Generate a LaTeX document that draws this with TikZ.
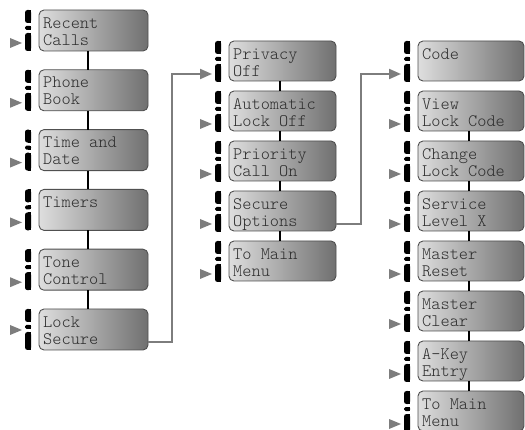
\documentclass[tikz,border=0pt]{standalone}
\usepackage{fontspec}
\setmonofont{Latin Modern Mono Light}
\usetikzlibrary{calc,arrows.meta}
\definecolor{boxborder}{RGB}{80,80,80}
\definecolor{boxlight}{RGB}{222,222,222}
\definecolor{boxmid}{RGB}{172,172,172}
\definecolor{boxdark}{RGB}{112,112,112}
\definecolor{connclr}{RGB}{125,125,125}
\definecolor{lcdclr}{RGB}{45,45,45}
\tikzset{
  menubox/.style={draw=boxborder, line width=0.9pt, rounded corners=5pt,
    left color=boxlight, middle color=boxmid, right color=boxdark, anchor=north west,
    inner sep=0pt, outer sep=0pt},
  lcdtext/.style={anchor=north west, inner sep=0pt, align=left, text=lcdclr,
    font=\ttfamily\fontsize{17.5}{17}\selectfont},
  vline/.style={draw=black, line width=1.2pt},
  connline/.style={draw=connclr, line width=2pt,
    -{Triangle[length=12pt,width=10pt]}},
  markfill/.style={fill=black},
  tri/.style={fill=connclr},
}
\newcommand{\menuitem}[6]{%
  \node[menubox, minimum width=#4pt, minimum height=#5pt] (#1) at (#2,#3) {};
  \node[lcdtext] (#1-t) at ($(#1.north west)+(4,6)$) {\rule{0pt}{12pt}#6};
  \fill[markfill, rounded corners=2.5pt] ($(#1.north west)+(-14,0)$) rectangle ($(#1.north west)+(-8,13)$);
  \fill[markfill] ($(#1.north west)+(-11,0)$) rectangle ($(#1.north west)+(-8,13)$);
  \fill[markfill, rounded corners=1.5pt] ($(#1.north west)+(-14,16)$) rectangle ($(#1.north west)+(-8,20)$);
  \fill[markfill] ($(#1.north west)+(-11,16)$) rectangle ($(#1.north west)+(-8,20)$);
  \fill[markfill, rounded corners=2.5pt] ($(#1.north west)+(-14,23)$) rectangle ($(#1.north west)+(-8,41)$);
  \fill[markfill] ($(#1.north west)+(-11,23)$) rectangle ($(#1.north west)+(-8,41)$);
}
\newcommand{\menutri}[2]{%
  \fill[tri] ($(#1.north west)+(-29,#2-5)$) -- ($(#1.north west)+(-17,#2)$) -- ($(#1.north west)+(-29,#2+5)$) -- cycle;
}
\newcommand{\menulink}[3]{%
  \draw[vline] ($(#1.south west)+(#3,0)$) -- ($(#2.north west)+(#3,0)$);
}
\begin{document}
\begin{tikzpicture}[x=1pt,y=-1pt]
\useasboundingbox[fill=white] (0,0) rectangle (525,430);
% column 1
\menuitem{rc}{39}{10}{109}{41}{Recent\\Calls}
\menuitem{pb}{39}{69.8}{109}{41}{Phone\\Book}
\menuitem{td}{39}{129.6}{109}{41}{Time and\\Date}
\menuitem{tm}{39}{189.4}{109}{41}{Timers}
\menuitem{tc}{39}{249.2}{109}{41}{Tone\\Control}
\menuitem{ls}{39}{309}{109}{41}{Lock\\Secure}
\menutri{rc}{33}
\menutri{pb}{33}
\menutri{td}{33}
\menutri{tm}{33}
\menutri{tc}{33}
\menutri{ls}{21}
\menulink{rc}{pb}{49}
\menulink{pb}{td}{49}
\menulink{td}{tm}{49}
\menulink{tm}{tc}{49}
\menulink{tc}{ls}{49}
% column 2
\menuitem{po}{229}{41}{107}{40}{Privacy\\Off}
\menuitem{al}{229}{91}{107}{40}{Automatic\\Lock Off}
\menuitem{pc}{229}{141}{107}{40}{Priority\\Call On}
\menuitem{so}{229}{191}{107}{40}{Secure\\Options}
\menuitem{mm}{229}{241}{107}{40}{To Main\\Menu}
\menutri{al}{33}
\menutri{pc}{33}
\menutri{so}{33}
\menutri{mm}{33}
\menulink{po}{al}{51}
\menulink{al}{pc}{51}
\menulink{pc}{so}{51}
\menulink{so}{mm}{51}
% column 3
\menuitem{cd}{418}{41}{106}{40}{Code}
\menuitem{vl}{418}{91}{106}{40}{View\\Lock Code}
\menuitem{cl}{418}{141}{106}{40}{Change\\Lock Code}
\menuitem{sl}{418}{191}{106}{40}{Service\\Level X}
\menuitem{mr}{418}{241}{106}{40}{Master\\Reset}
\menuitem{mc}{418}{291}{106}{40}{Master\\Clear}
\menuitem{ak}{418}{341}{106}{40}{A-Key\\Entry}
\menuitem{tm3}{418}{391}{106}{40}{To Main\\Menu}
\menutri{vl}{33}
\menutri{cl}{33}
\menutri{sl}{33}
\menutri{mr}{33}
\menutri{mc}{33}
\menutri{ak}{33}
\menutri{tm3}{33}
\menulink{vl}{cl}{51}
\menulink{cl}{sl}{51}
\menulink{sl}{mr}{51}
\menulink{mr}{mc}{51}
\menulink{mc}{ak}{51}
\menulink{ak}{tm3}{51}
% gray connectors
\coordinate (lsout) at ($(ls.north east)+(0,33)$);
\coordinate (bend1) at (172,74);
\coordinate (poin) at ($(po.north west)+(-17,33)$);
\draw[connline] (lsout) -| (bend1) -- (poin);
\coordinate (soout) at ($(so.north east)+(0,33)$);
\coordinate (bend2) at (361,74);
\coordinate (cdin) at ($(cd.north west)+(-17,33)$);
\draw[connline] (soout) -| (bend2) -- (cdin);
\end{tikzpicture}
\end{document}
